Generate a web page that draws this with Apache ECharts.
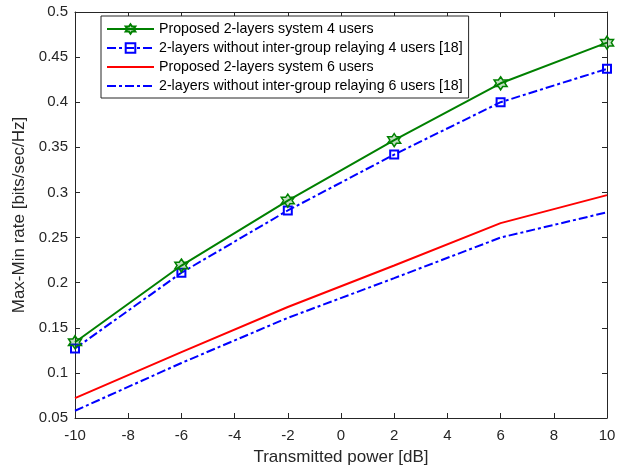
<!DOCTYPE html>
<html>
<head>
<meta charset="utf-8">
<script src="https://cdn.jsdelivr.net/npm/echarts@6/dist/echarts.min.js"></script>
<style>
  html, body { margin: 0; padding: 0; background: #fff; }
  #chart { width: 639px; height: 471px; }
</style>
</head>
<body>
<div id="chart"></div>
<script>
// data
var powerDb = [-10, -6, -2, 2, 6, 10];
var prop4 = [0.134, 0.219, 0.291, 0.358, 0.421, 0.466];
var noRelay4 = [0.127, 0.211, 0.280, 0.342, 0.400, 0.437];
var prop6 = [0.072, 0.123, 0.173, 0.219, 0.266, 0.297];
var noRelay6 = [0.058, 0.111, 0.161, 0.205, 0.250, 0.278];
var seriesNames = [
  'Proposed 2-layers system 4 users',
  '2-layers without inter-group relaying 4 users [18]',
  'Proposed 2-layers system 6 users',
  '2-layers without inter-group relaying 6 users [18]'
];

var axisColor = '#262626';
var font = 'Liberation Sans, Arial, sans-serif';
var dashDot = [9, 3, 3, 3];

// hexagram marker
function hexagram() {
  var pts = [];
  for (var i = 0; i < 12; i++) {
    var r = i % 2 === 0 ? 1 : 0.577;
    var a = -Math.PI / 2 + i * Math.PI / 6;
    pts.push((50 + 50 * r * Math.cos(a)).toFixed(2) + ' ' + (50 + 50 * r * Math.sin(a)).toFixed(2));
  }
  return 'path://M' + pts.join(' L') + ' Z';
}

function pairs(ys) {
  return powerDb.map(function (x, i) { return [x, ys[i]]; });
}

var chart = echarts.init(document.getElementById('chart'));

var opt = {
  animation: false,
  backgroundColor: '#fff',
  grid: { left: 75, right: 32, top: 12, bottom: 53 },
  legend: {
    orient: 'vertical',
    left: 101,
    top: 16,
    padding: [6, 6, 5, 5],
    itemWidth: 47,
    itemHeight: 12,
    itemGap: 5,
    borderColor: axisColor,
    borderWidth: 1,
    backgroundColor: '#fff',
    textStyle: { fontFamily: font, fontSize: 14.2, color: '#000' },
    data: [
      { name: seriesNames[0] },
      { name: seriesNames[1] },
      { name: seriesNames[2], itemStyle: { opacity: 0 } },
      { name: seriesNames[3], itemStyle: { opacity: 0 } }
    ]
  },
  xAxis: [{
    type: 'value',
    min: -10, max: 10, interval: 2,
    name: 'Transmitted power [dB]',
    nameLocation: 'middle',
    nameGap: 31,
    nameTextStyle: { fontFamily: font, fontSize: 17, color: axisColor },
    axisLine: { onZero: false, lineStyle: { color: axisColor, width: 1 } },
    axisTick: { inside: true, length: 5, lineStyle: { color: axisColor } },
    axisLabel: { fontFamily: font, fontSize: 15, color: axisColor, margin: 10 },
    splitLine: { show: false }
  }, {
    type: 'value',
    position: 'top',
    min: -10, max: 10, interval: 2,
    axisLine: { show: true, onZero: false, lineStyle: { color: axisColor, width: 1 } },
    axisTick: { show: true, inside: true, length: 5, lineStyle: { color: axisColor } },
    axisLabel: { show: false },
    splitLine: { show: false }
  }],
  yAxis: [{
    type: 'value',
    min: 0.05, max: 0.5, interval: 0.05,
    name: 'Max-Min rate [bits/sec/Hz]',
    nameLocation: 'middle',
    nameGap: 43,
    nameTextStyle: { fontFamily: font, fontSize: 17, color: axisColor },
    axisLine: { show: true, onZero: false, lineStyle: { color: axisColor, width: 1 } },
    axisTick: { show: true, inside: true, length: 5, lineStyle: { color: axisColor } },
    axisLabel: {
      fontFamily: font, fontSize: 15, color: axisColor, margin: 7,
      formatter: function (v) { return String(Math.round(v * 100) / 100); }
    },
    splitLine: { show: false }
  }, {
    type: 'value',
    position: 'right',
    min: 0.05, max: 0.5, interval: 0.05,
    axisLine: { show: true, onZero: false, lineStyle: { color: axisColor, width: 1 } },
    axisTick: { show: true, inside: true, length: 5, lineStyle: { color: axisColor } },
    axisLabel: { show: false },
    splitLine: { show: false }
  }],
  series: [{
    name: seriesNames[0],
    type: 'line',
    data: pairs(prop4),
    symbol: hexagram(),
    symbolSize: 13,
    lineStyle: { color: '#008000', width: 2 },
    itemStyle: { color: 'rgba(0,128,0,0.25)', borderColor: '#008000', borderWidth: 1.5 },
    z: 4
  }, {
    name: seriesNames[1],
    type: 'line',
    data: pairs(noRelay4),
    symbol: 'rect',
    symbolSize: 8,
    lineStyle: { color: '#0000ff', width: 2, type: dashDot },
    itemStyle: { color: 'rgba(255,255,255,0)', borderColor: '#0000ff', borderWidth: 2 },
    z: 3
  }, {
    name: seriesNames[2],
    type: 'line',
    data: pairs(prop6),
    symbol: 'none',
    lineStyle: { color: '#ff0000', width: 2 },
    itemStyle: { color: '#ff0000' }
  }, {
    name: seriesNames[3],
    type: 'line',
    data: pairs(noRelay6),
    symbol: 'none',
    lineStyle: { color: '#0000ff', width: 2, type: dashDot },
    itemStyle: { color: '#0000ff' }
  }]
};

chart.setOption(opt);
</script>
</body>
</html>
